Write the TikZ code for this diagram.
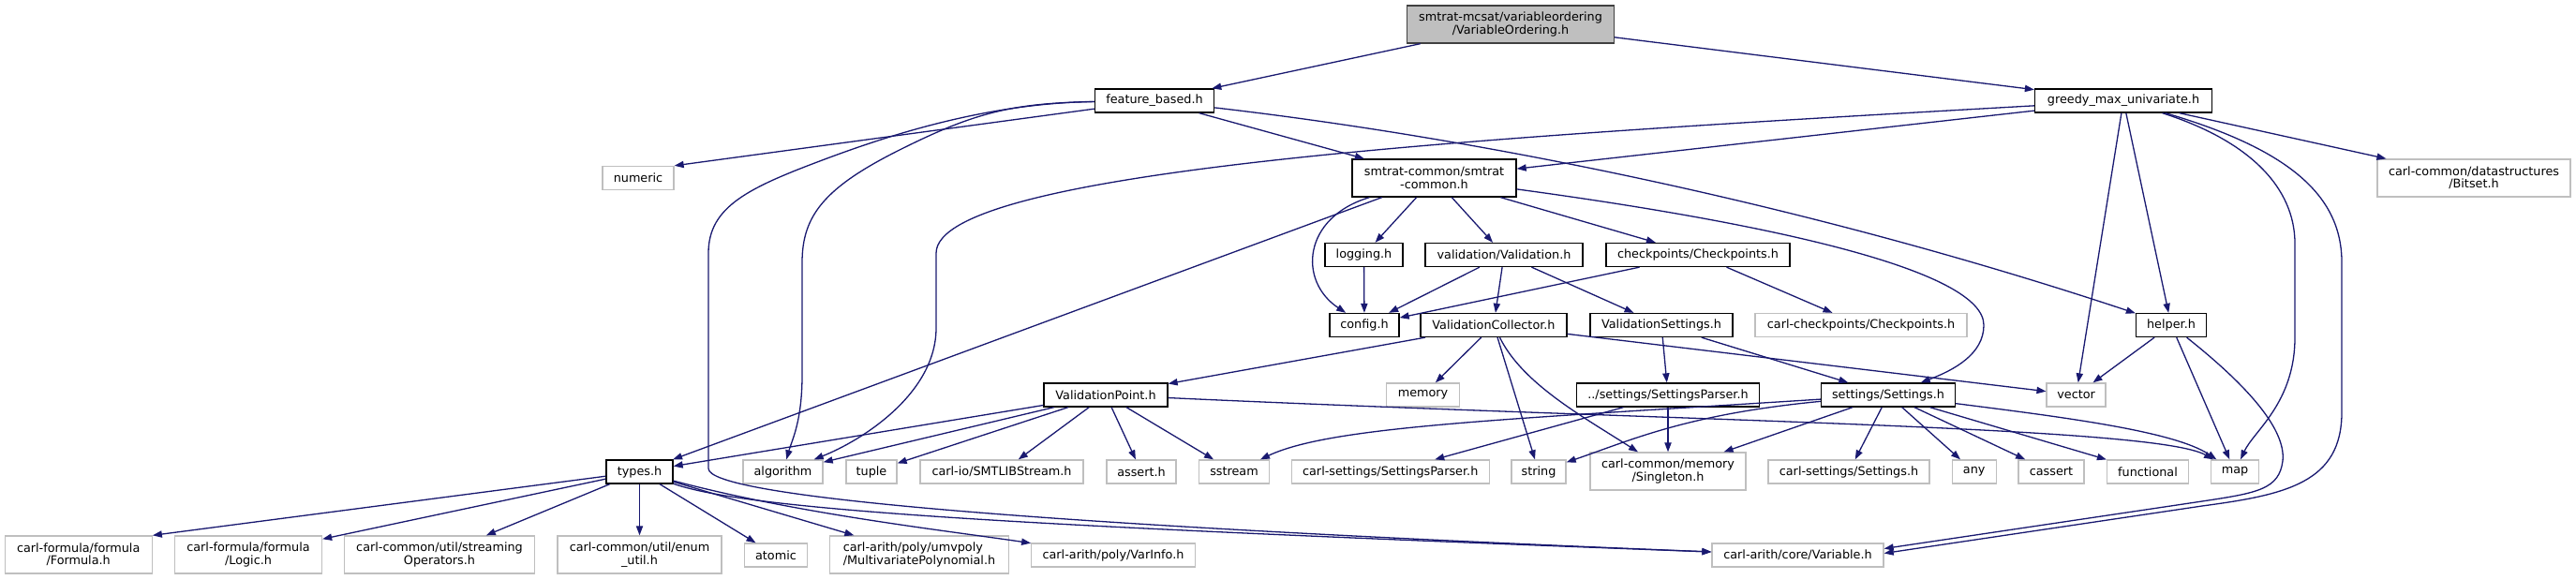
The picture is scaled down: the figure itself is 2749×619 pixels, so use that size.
\documentclass[tikz,border=0pt]{standalone}
\usepackage{fontspec}
\setmainfont{DejaVu Sans}
\usetikzlibrary{arrows.meta}
\definecolor{edgec}{HTML}{191970}
\definecolor{extc}{HTML}{BFBFBF}
\definecolor{rootfill}{HTML}{BFBFBF}
\begin{document}
\begin{tikzpicture}[x=0.5pt,y=-0.5pt,
  box/.style={draw=black, line width=0.65pt, fill=white, inner sep=0pt,
    minimum height=12.5pt, font=\fontsize{6.4}{6.67}\selectfont, align=center, text=black},
  doc/.style={box},
  ext/.style={box, draw=extc},
  two/.style={minimum height=20pt},
  wd/.style={minimum width=#1*0.5pt},
  edge/.style={draw=edgec, line width=0.65pt, -{Triangle[length=5pt,width=3.6pt]}},
]
\fill[white] (0,0) rectangle (2749,619);
\useasboundingbox (0,0) rectangle (2749,619);

% nodes
\node[doc, two, wd=221, fill=rootfill, draw=black!75] (root) at (1612,26) {smtrat-mcsat/variableordering\\/VariableOrdering.h};
\node[doc, wd=127] (fb) at (1232,107.5) {feature\_based.h};
\node[doc, wd=189] (greedy) at (2266,107.5) {greedy\_max\_univariate.h};
\node[ext, wd=76] (numeric) at (681,190) {numeric};
\node[doc, two, wd=175] (smtrat) at (1530.5,190) {smtrat-common/smtrat\\-common.h};
\node[ext, two, wd=206] (bitset) at (2640,190) {carl-common/datastructures\\/Bitset.h};
\node[doc, wd=83] (logging) at (1455.5,272) {logging.h};
\node[doc, wd=168] (validation) at (1605,272) {validation/Validation.h};
\node[doc, wd=196] (checkpoints) at (1812,272) {checkpoints/Checkpoints.h};
\node[doc, wd=74] (config) at (1456,347) {config.h};
\node[doc, wd=156] (vcollector) at (1594,347) {ValidationCollector.h};
\node[doc, wd=152] (vsettings) at (1773,347) {ValidationSettings.h};
\node[ext, wd=226] (carlcp) at (1986,347) {carl-checkpoints/Checkpoints.h};
\node[doc, wd=75] (helper) at (2317,347) {helper.h};
\node[doc, wd=132] (vpoint) at (1180,421.5) {ValidationPoint.h};
\node[ext, wd=78] (memory) at (1518.5,421.5) {memory};
\node[doc, wd=195] (sparser) at (1780,421.5) {../settings/SettingsParser.h};
\node[doc, wd=143] (settings) at (2015,421.5) {settings/Settings.h};
\node[ext, wd=63] (vector) at (2215.6,421.5) {vector};
\node[doc, wd=71] (types) at (682.5,503.5) {types.h};
\node[ext, wd=85] (algorithm) at (835.5,503.5) {algorithm};
\node[ext, wd=54] (tuple) at (930,503.5) {tuple};
\node[ext, wd=174] (smtlib) at (1069,503.5) {carl-io/SMTLIBStream.h};
\node[ext, wd=74] (assert) at (1218,503.5) {assert.h};
\node[ext, wd=75] (sstream) at (1317,503.5) {sstream};
\node[ext, wd=211] (csparser) at (1483.7,503.5) {carl-settings/SettingsParser.h};
\node[ext, wd=58] (string) at (1642,503.5) {string};
\node[ext, two, wd=166] (singleton) at (1780,503) {carl-common/memory\\/Singleton.h};
\node[ext, wd=172] (csettings) at (1973,503.5) {carl-settings/Settings.h};
\node[ext, wd=47] (any) at (2106.7,503.5) {any};
\node[ext, wd=70] (cassert) at (2189,503.5) {cassert};
\node[ext, wd=87] (functional) at (2292,503.5) {functional};
\node[ext, wd=51] (map) at (2385,503.5) {map};
\node[ext, two, wd=157] (formula) at (83.7,592) {carl-formula/formula\\/Formula.h};
\node[ext, two, wd=157] (logic) at (265,592) {carl-formula/formula\\/Logic.h};
\node[ext, two, wd=203] (streaming) at (469,592) {carl-common/util/streaming\\Operators.h};
\node[ext, two, wd=175] (enumutil) at (682.5,592) {carl-common/util/enum\\\_util.h};
\node[ext, wd=67] (atomic) at (828,592.5) {atomic};
\node[ext, two, wd=191, align=left] (multipoly) at (981,592) {carl-arith/poly/umvpoly\\/MultivariatePolynomial.h};
\node[ext, wd=174.5] (varinfo) at (1188,592.5) {carl-arith/poly/VarInfo.h};
\node[ext, wd=183] (variable) at (1918.5,592.5) {carl-arith/core/Variable.h};

% edges
\draw[edge] (root) -- (fb);
\draw[edge] (root) -- (greedy);
\draw[edge] (fb) -- (numeric.north east);
\draw[edge] (fb) -- (smtrat);
\draw[edge] (fb) .. controls (1600,150) and (1950,225) .. (helper);
\draw[edge] (fb) .. controls (1080,110) and (1040,120) .. (960,160) .. controls (880,200) and (856,230) .. (856,280) -- (856,400) .. controls (856,450) and (845,470) .. (algorithm);
\draw[edge] (fb) .. controls (1060,110) and (960,140) .. (880,170) .. controls (800,200) and (756,220) .. (756,270) -- (756,500) .. controls (756,530) and (1100,560) .. ([yshift=1.75pt]variable.west);

\draw[edge] (greedy) -- (smtrat);
\draw[edge] (greedy) .. controls (1600,145) and (1000,180) .. (999,270) -- (999,350) .. controls (999,420) and (920,470) .. (algorithm);
\draw[edge] (greedy) -- (vector);
\draw[edge] (greedy) -- (helper);
\draw[edge] (greedy) .. controls (2400,150) and (2449,200) .. (2449,260) -- (2449,360) .. controls (2449,430) and (2405,460) .. (map);
\draw[edge] (greedy) .. controls (2445,160) and (2499,210) .. (2499,280) -- (2499,440) .. controls (2499,515) and (2440,528) .. (2350,540) -- ([yshift=1pt]variable.east);
\draw[edge] (greedy) -- (bitset);

\draw[edge] (smtrat) .. controls (1390,232) and (1385,300) .. (config);
\draw[edge] (smtrat) -- (types);
\draw[edge] (smtrat) -- (logging);
\draw[edge] (smtrat) -- (validation);
\draw[edge] (smtrat) -- (checkpoints);
\draw[edge] (smtrat) .. controls (1900,240) and (2117,290) .. (2117,347) .. controls (2117,378) and (2085,395) .. (settings);

\draw[edge] (logging) -- (config);
\draw[edge] (validation) -- (config);
\draw[edge] (validation) -- (vcollector);
\draw[edge] (validation) -- (vsettings);
\draw[edge] (checkpoints) -- (config);
\draw[edge] (checkpoints) -- (carlcp);

\draw[edge] (vcollector) -- (vpoint);
\draw[edge] (vcollector) -- (memory);
\draw[edge] (vcollector) -- (string);
\draw[edge] (vcollector) .. controls (1625,410) and (1690,445) .. (singleton);
\draw[edge] (vcollector) -- (vector);

\draw[edge] (vsettings) -- (sparser);
\draw[edge] (vsettings) -- (settings);

\draw[edge] (helper) -- (vector);
\draw[edge] (helper) -- (map);
\draw[edge] (helper) .. controls (2390,405) and (2440,455) .. (2436,492) .. controls (2432,522) and (2410,526) .. (2350,535) -- ([yshift=3.5pt]variable.east);

\draw[edge] (vpoint) -- (types);
\draw[edge] (vpoint) -- (algorithm);
\draw[edge] (vpoint) -- (tuple);
\draw[edge] (vpoint) -- (smtlib);
\draw[edge] (vpoint) -- (assert);
\draw[edge] (vpoint) -- (sstream);
\draw[edge] (vpoint) .. controls (1800,450) and (2300,455) .. (map);

\draw[edge] (sparser) -- (csparser);
\draw[edge] (sparser) -- (singleton);

\draw[edge] (settings) .. controls (1600,448) and (1420,455) .. (sstream);
\draw[edge] (settings) .. controls (1800,442) and (1740,470) .. (string);
\draw[edge] (settings) -- (singleton);
\draw[edge] (settings) -- (csettings);
\draw[edge] (settings) -- (any);
\draw[edge] (settings) -- (cassert);
\draw[edge] (settings) -- (functional);
\draw[edge] (settings) .. controls (2200,445) and (2320,460) .. (map);

\draw[edge] (types) -- (formula.north east);
\draw[edge] (types) -- (logic);
\draw[edge] (types) -- (streaming);
\draw[edge] (types) -- (enumutil);
\draw[edge] (types) -- (atomic);
\draw[edge] (types) -- (multipoly);
\draw[edge] (types) .. controls (850,548) and (1000,565) .. (varinfo);
\draw[edge] (types) .. controls (800,545) and (1100,562) .. ([yshift=1.75pt]variable.west);
\end{tikzpicture}
\end{document}
